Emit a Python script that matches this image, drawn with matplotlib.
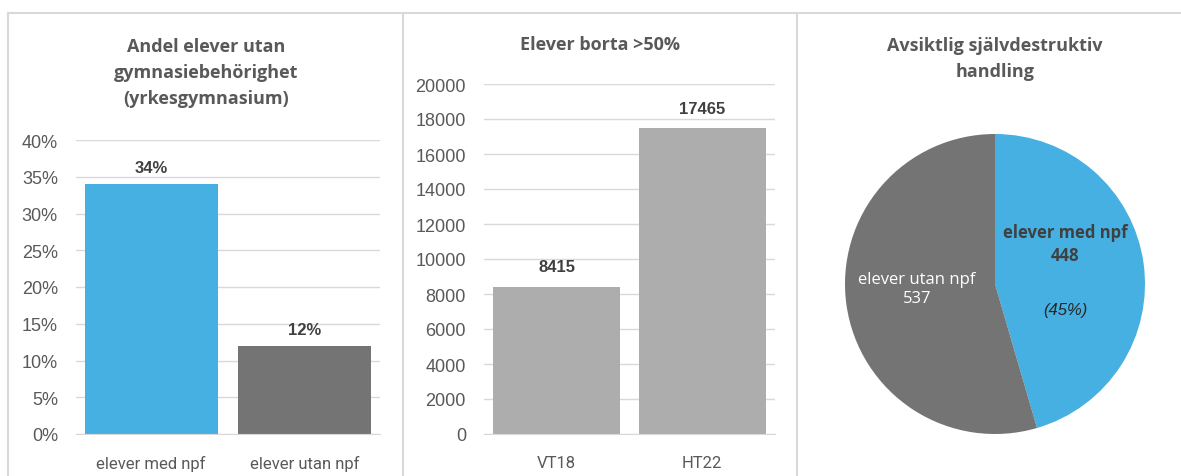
import numpy as np
import matplotlib.pyplot as plt
from matplotlib.lines import Line2D
from matplotlib.ticker import FuncFormatter

# data
kat1 = ['elever med npf', 'elever utan npf']
andel = [0.34, 0.12]

kat2 = ['VT18', 'HT22']
borta = [8415, 17465]

pie_labels = ['elever med npf', 'elever utan npf']
pie_vals = [448, 537]

BLUE = '#45B0E1'
DGRAY = '#747474'
LGRAY = '#ADADAD'
TXT = '#595959'
GRID = '#D9D9D9'

W, H = 1181, 477
fig = plt.figure(figsize=(W / 100, H / 100), dpi=100)


def px(x0, y0, x1, y1):
    # pixel box (top-left origin) -> figure fraction
    return [x0 / W, 1 - y1 / H, (x1 - x0) / W, (y1 - y0) / H]


# panel frames
for xs, ys in [([8, 8], [14, H]), ([403, 403], [14, H]), ([797, 797], [14, H]),
               ([8, W], [14, 14])]:
    fig.add_artist(Line2D([x / W for x in xs], [1 - y / H for y in ys],
                          color='#D9D9D9', lw=1.5))


def style_bar(ax):
    for s in ax.spines.values():
        s.set_visible(False)
    ax.spines['bottom'].set_visible(True)
    ax.spines['bottom'].set_color(GRID)
    ax.grid(axis='y', color=GRID, lw=1)
    ax.set_axisbelow(True)
    ax.tick_params(length=0, colors=TXT)
    ax.tick_params(axis='y', pad=13)
    ax.tick_params(axis='x', pad=15)
    for lab in ax.get_yticklabels():
        lab.set_fontfamily('Liberation Sans')
        lab.set_fontsize(13)
    for lab in ax.get_xticklabels():
        lab.set_fontfamily('Roboto')
        lab.set_fontsize(12)


# panel 1
ax1 = fig.add_axes(px(76, 141, 380, 435))
x = np.arange(len(kat1))
ax1.bar(x, andel, width=0.866, color=[BLUE, DGRAY])
ax1.set_ylim(0, 0.40)
ax1.set_xlim(-0.49, 1.49)
ax1.set_yticks(np.arange(0, 0.41, 0.05))
ax1.yaxis.set_major_formatter(FuncFormatter(lambda v, p: f'{v*100:.0f}%'))
ax1.set_xticks(x, kat1)
style_bar(ax1)
for xi, v in zip(x, andel):
    ax1.text(xi, v + 0.012, f'{v*100:.0f}%', ha='center', va='bottom',
             fontsize=12, fontweight='bold', color='#404040', family='Liberation Sans')
fig.text(206 / W, 1 - 73 / H, 'Andel elever utan\ngymnasiebehörighet\n(yrkesgymnasium)',
         ha='center', va='center', fontsize=13, fontweight='bold', color=TXT,
         family='Open Sans', linespacing=1.6)

# panel 2
ax2 = fig.add_axes(px(484, 85, 775, 435))
x = np.arange(len(kat2))
ax2.bar(x, borta, width=0.87, color=LGRAY)
ax2.set_ylim(0, 20000)
ax2.set_xlim(-0.5, 1.5)
ax2.set_yticks(np.arange(0, 20001, 2000))
ax2.set_xticks(x, kat2)
style_bar(ax2)
for xi, v in zip(x, borta):
    ax2.text(xi, v + 700, f'{v}', ha='center', va='bottom',
             fontsize=12, fontweight='bold', color='#404040', family='Liberation Sans')
fig.text(600 / W, 1 - 45 / H, 'Elever borta >50%', ha='center', va='center',
         fontsize=13, fontweight='bold', color=TXT, family='Open Sans')

# panel 3
ax3 = fig.add_axes(px(845, 135, 1145, 435))
ax3.pie(pie_vals, colors=[BLUE, DGRAY], startangle=90, counterclock=False,
        radius=1, wedgeprops=dict(linewidth=0))
ax3.set_xlim(-1, 1)
ax3.set_ylim(-1, 1)
ax3.set_aspect('equal')
ax3.text(0.47, 0.27, f'{pie_labels[0]}\n{pie_vals[0]}', ha='center', va='center',
         fontsize=12, fontweight='bold', color='#404040', family='Open Sans',
         linespacing=1.3)
share = pie_vals[0] / sum(pie_vals)
ax3.text(0.47, -0.17, f'({share*100:.0f}%)', ha='center', va='center',
         fontsize=12, style='italic', color='#262626', family='Liberation Sans')
ax3.text(-0.52, -0.03, f'{pie_labels[1]}\n{pie_vals[1]}', ha='center', va='center',
         fontsize=12, color='white', family='Open Sans', linespacing=1.3)
fig.text(995 / W, 1 - 59 / H, 'Avsiktlig självdestruktiv\nhandling', ha='center',
         va='center', fontsize=13, fontweight='bold', color=TXT, family='Open Sans',
         linespacing=1.6)

fig.savefig('out.png', dpi=100)
